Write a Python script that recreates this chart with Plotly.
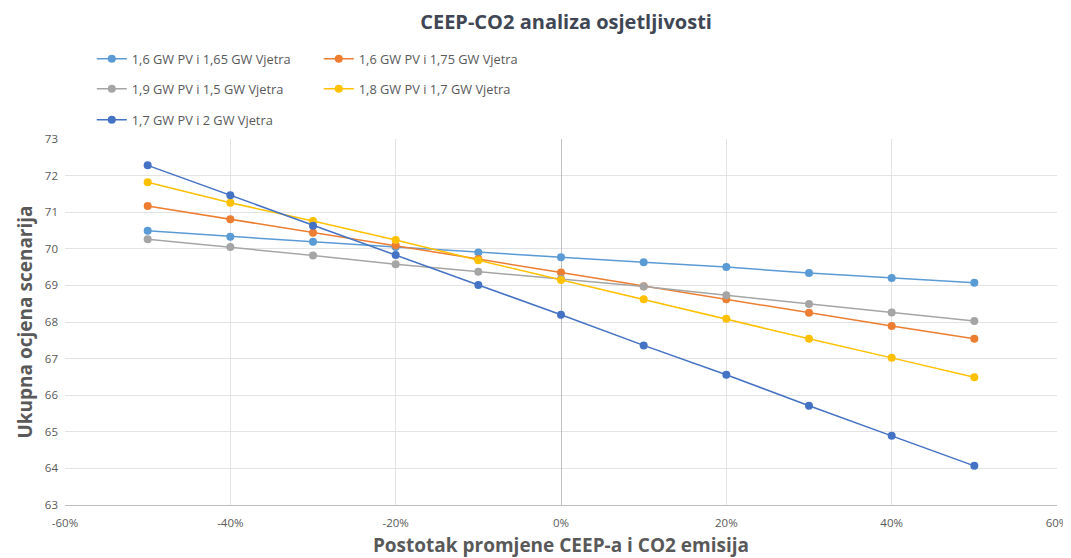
import plotly.graph_objects as go

x_pct = [-0.5, -0.4, -0.3, -0.2, -0.1, 0.0, 0.1, 0.2, 0.3, 0.4, 0.5]

names = [
    "1,6 GW PV i 1,65 GW Vjetra",
    "1,6 GW PV i 1,75 GW Vjetra",
    "1,9 GW PV i 1,5 GW Vjetra",
    "1,8 GW PV i 1,7 GW Vjetra",
    "1,7 GW PV i 2 GW Vjetra",
]

s_pv16_w165 = [70.49, 70.33, 70.19, 70.05, 69.90, 69.77, 69.63, 69.50, 69.34, 69.20, 69.07]
s_pv16_w175 = [71.17, 70.81, 70.44, 70.10, 69.72, 69.35, 68.98, 68.62, 68.25, 67.89, 67.54]
s_pv19_w15 = [70.26, 70.05, 69.82, 69.58, 69.37, 69.18, 68.97, 68.73, 68.49, 68.26, 68.03]
s_pv18_w17 = [71.82, 71.26, 70.76, 70.24, 69.69, 69.15, 68.62, 68.09, 67.54, 67.02, 66.49]
s_pv17_w2 = [72.28, 71.46, 70.63, 69.83, 69.01, 68.20, 67.36, 66.56, 65.71, 64.89, 64.07]

x_tickvals = [-0.6, -0.4, -0.2, 0.0, 0.2, 0.4, 0.6]
x_ticktext = ["-60%", "-40%", "-20%", "0%", "20%", "40%", "60%"]
y_tickvals = [63, 64, 65, 66, 67, 68, 69, 70, 71, 72, 73]

series = [s_pv16_w165, s_pv16_w175, s_pv19_w15, s_pv18_w17, s_pv17_w2]
colors = ["#5B9BD5", "#ED7D31", "#A5A5A5", "#FFC000", "#4472C4"]
legend_ids = ["legend", "legend", "legend2", "legend2", "legend3"]

fig = go.Figure()
for nm, ys, c, lg in zip(names, series, colors, legend_ids):
    fig.add_trace(go.Scatter(
        x=x_pct, y=ys, name=nm, mode="lines+markers",
        line=dict(color=c, width=1.5),
        marker=dict(color=c, size=8),
        legend=lg,
    ))

txt = "#595959"
font_main = "Open Sans, Lato, sans-serif"

leg_common = dict(orientation="h", entrywidth=182, entrywidthmode="pixels",
                  font=dict(size=12.8, color=txt, family=font_main),
                  bgcolor="rgba(0,0,0,0)", xanchor="left", yanchor="middle",
                  itemclick=False, tracegroupgap=0)

fig.update_layout(
    width=1063, height=550,
    margin=dict(l=57, r=14, t=131, b=53, autoexpand=False),
    paper_bgcolor="white", plot_bgcolor="white",
    font=dict(family=font_main, color=txt),
    title=dict(text="<b>CEEP-CO2 analiza osjetljivosti</b>",
               x=0.525, xref="container", xanchor="center",
               y=1 - 14 / 550, yref="container", yanchor="middle",
               font=dict(size=20, color="#404654", family=font_main)),
    legend=dict(x=0.027, y=1.2186, **leg_common),
    legend2=dict(x=0.027, y=1.1366, **leg_common),
    legend3=dict(x=0.027, y=1.052, **leg_common),
    xaxis=dict(range=[-0.6, 0.6], tickvals=x_tickvals, ticktext=x_ticktext,
               showgrid=True, gridcolor="#e3e3e3", gridwidth=1,
               zeroline=True, zerolinecolor="#bfbfbf", zerolinewidth=1.3,
               showline=True, linecolor="#bfbfbf", linewidth=1,
               ticks="", tickfont=dict(size=11.5, color=txt), automargin=False,
               ticklabelstandoff=7,
               title=dict(text="<b>Postotak promjene CEEP-a i CO2 emisija</b>",
                          font=dict(size=19, color=txt), standoff=11)),
    yaxis=dict(range=[63, 73], tickvals=y_tickvals,
               showgrid=True, gridcolor="#e3e3e3", gridwidth=1,
               zeroline=False, showline=False, automargin=False,
               ticks="", tickfont=dict(size=11.5, color=txt),
               ticklabelstandoff=6,
               title=dict(text="<b>Ukupna ocjena scenarija</b>",
                          font=dict(size=19, color=txt), standoff=7)),
)

fig.write_html("out.html")
